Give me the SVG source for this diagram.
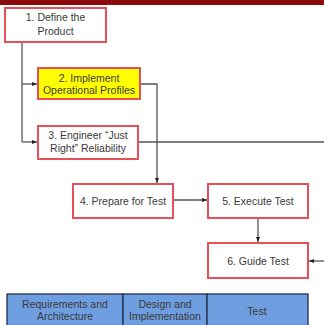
<svg xmlns="http://www.w3.org/2000/svg" width="324" height="325" viewBox="0 0 324 325">
<defs>
<marker id="ah" viewBox="0 0 10 10" refX="10" refY="5" markerWidth="5" markerHeight="5" orient="auto" markerUnits="userSpaceOnUse"><path d="M0,1 L10,5 L0,9 z" fill="#222"/></marker>
<style>
.box{fill:#fff;stroke:#e5505a;stroke-width:2}
.yel{fill:#ffff00;stroke:#e5505a;stroke-width:2}
.t{font-family:"Liberation Sans",Arial,sans-serif;font-size:10.5px;fill:#3a3a3a;text-anchor:middle}
.c{fill:none;stroke:#555;stroke-width:1.3}
.a{marker-end:url(#ah)}
.cell{fill:#6f9ee0;stroke:#1f2f4f;stroke-width:1.3}
</style>
</defs>
<rect x="0" y="0" width="324" height="325" fill="#fff"/>
<rect x="0" y="0" width="324" height="5" fill="#8b0a0a"/>
<g id="connectors">
<path class="c" d="M22,42 V142"/>
<path class="c a" d="M22,84 H37"/>
<path class="c a" d="M22,142 H37"/>
<path class="c a" d="M140,84 H157 V183"/>
<path class="c" d="M138,142 H324" stroke="#777"/>
<path class="c a" d="M173,200 H207"/>
<path class="c a" d="M258,218 V242"/>
<path class="c a" d="M324,261 H309"/>
</g>
<g id="n1"><rect class="box" x="5" y="8" width="101" height="34"/><text class="t" x="55.5" y="21">1.  Define the</text><text class="t" x="55.5" y="35">Product</text></g>
<g id="n2"><rect class="yel" x="38" y="68" width="102" height="31"/><text class="t" x="89" y="82">2.  Implement</text><text class="t" x="89" y="94">Operational Profiles</text></g>
<g id="n3"><rect class="box" x="38" y="126" width="100" height="33"/><text class="t" x="88" y="139">3.  Engineer “Just</text><text class="t" x="88" y="152">Right” Reliability</text></g>
<g id="n4"><rect class="box" x="73" y="184" width="100" height="34"/><text class="t" x="123" y="205">4.  Prepare for Test</text></g>
<g id="n5"><rect class="box" x="208" y="184" width="100" height="34"/><text class="t" x="258" y="205">5.  Execute Test</text></g>
<g id="n6"><rect class="box" x="208" y="243" width="100" height="35"/><text class="t" x="258" y="265">6.  Guide Test</text></g>
<g id="table">
<rect class="cell" x="7" y="294" width="116" height="34"/>
<rect class="cell" x="123" y="294" width="84" height="34"/>
<rect class="cell" x="207" y="294" width="101" height="34"/>
<text class="t" x="65" y="308">Requirements and</text><text class="t" x="65" y="320">Architecture</text>
<text class="t" x="165" y="308">Design and</text><text class="t" x="165" y="320">Implementation</text>
<text class="t" x="257" y="315">Test</text>
</g>
</svg>
